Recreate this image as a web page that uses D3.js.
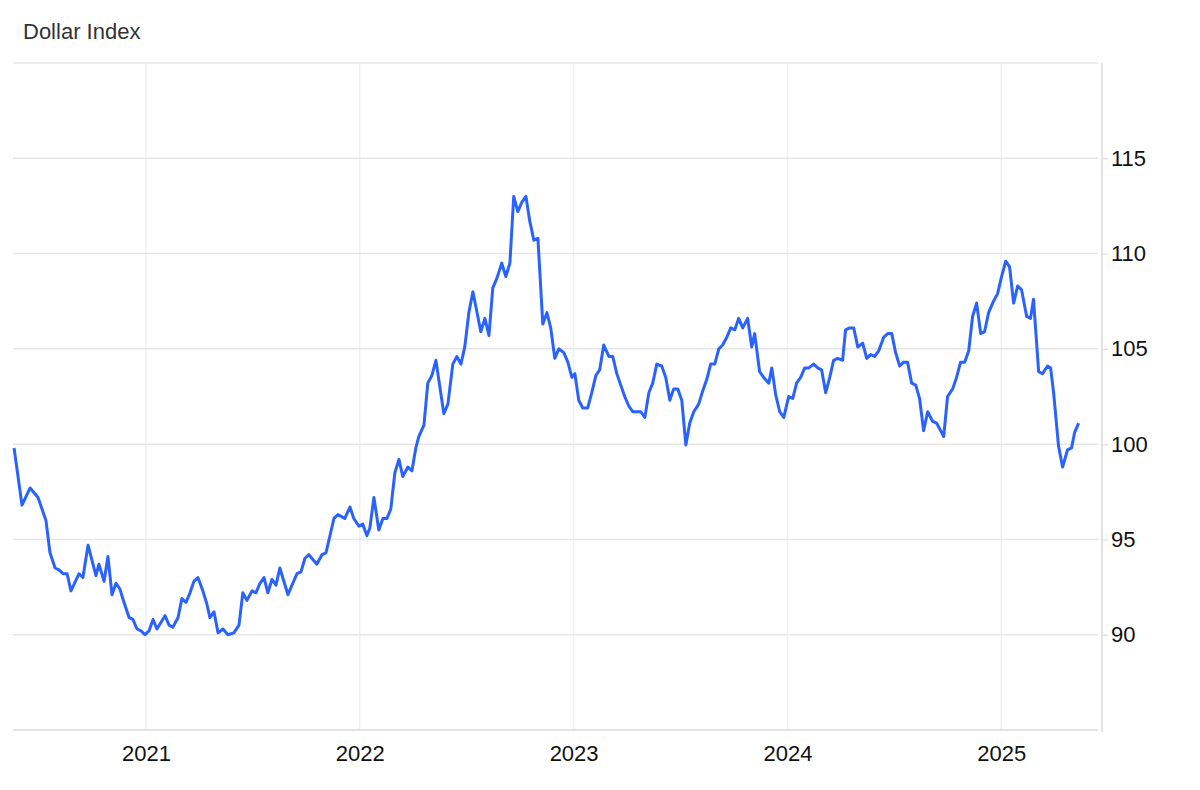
<!DOCTYPE html>
<html>
<head>
<meta charset="UTF-8">
<script src="https://cdn.jsdelivr.net/npm/d3@7"></script>
<style>
    body{margin:0;background:#fff;font-family:"Liberation Sans",Arial,sans-serif;}
    .grid line{stroke:#e6e6e6;stroke-width:1.5px;}
    .vgrid line{stroke:#edf0f4;stroke-width:1.5px;}
</style>
</head>
<body>
<script>
    // decimal-year dates and index values (approx weekly)
    var dates=[2020.383,2020.420,2020.458,2020.495,2020.532,2020.551,2020.575,2020.593,2020.612,2020.631,2020.649,2020.687,2020.705,2020.729,2020.766,2020.780,2020.804,2020.822,2020.841,2020.860,2020.878,2020.897,2020.921,2020.939,2020.958,2020.977,2020.995,2021.014,2021.033,2021.051,2021.089,2021.108,2021.126,2021.150,2021.168,2021.187,2021.206,2021.224,2021.243,2021.266,2021.285,2021.299,2021.318,2021.337,2021.360,2021.383,2021.411,2021.435,2021.453,2021.472,2021.496,2021.514,2021.533,2021.552,2021.570,2021.589,2021.608,2021.626,2021.664,2021.706,2021.725,2021.743,2021.762,2021.799,2021.823,2021.842,2021.879,2021.898,2021.930,2021.954,2021.972,2021.996,2022.014,2022.033,2022.047,2022.066,2022.089,2022.108,2022.127,2022.145,2022.164,2022.183,
        2022.201,2022.225,2022.244,2022.262,2022.276,2022.300,2022.318,2022.337,2022.356,2022.393,2022.412,2022.435,2022.454,2022.473,2022.491,2022.510,2022.529,2022.552,2022.566,2022.585,2022.604,2022.622,2022.641,2022.664,2022.683,2022.702,2022.720,2022.739,2022.758,2022.777,2022.795,2022.814,2022.833,2022.856,2022.875,2022.893,2022.912,2022.931,2022.954,2022.973,2022.992,2023.006,2023.024,2023.043,2023.066,2023.085,2023.104,2023.122,2023.141,2023.165,2023.183,2023.202,2023.239,2023.258,2023.277,2023.314,2023.333,2023.352,2023.370,2023.389,2023.412,2023.431,2023.450,2023.468,2023.487,2023.506,2023.525,2023.543,2023.562,2023.585,2023.604,2023.623,2023.641,2023.660,2023.679,
        2023.697,2023.716,2023.735,2023.754,2023.772,2023.791,2023.814,2023.833,2023.847,2023.870,2023.889,2023.913,2023.927,2023.945,2023.964,2023.983,2024.006,2024.025,2024.043,2024.062,2024.081,2024.100,2024.123,2024.142,2024.160,2024.179,2024.198,2024.216,2024.235,2024.258,2024.272,2024.291,2024.310,2024.329,2024.352,2024.371,2024.389,2024.408,2024.427,2024.450,2024.469,2024.488,2024.506,2024.525,2024.544,2024.562,2024.581,2024.600,2024.618,2024.637,2024.656,2024.679,2024.698,2024.717,2024.731,2024.749,2024.773,2024.791,2024.810,2024.829,2024.848,2024.866,2024.885,2024.904,2024.922,2024.941,2024.964,2024.983,2025.002,2025.021,2025.039,2025.058,2025.077,2025.095,2025.119,2025.137,2025.151,2025.175,2025.193,2025.217,2025.231,2025.245,2025.268,2025.287,2025.310,2025.329,2025.343,2025.362];
    var values=[99.8,96.8,97.7,97.2,96.0,94.3,93.5,93.4,93.2,93.2,92.3,93.2,93.0,94.7,93.1,93.7,92.8,94.1,92.1,92.7,92.4,91.7,90.9,90.8,90.3,90.2,90.0,90.2,90.8,90.3,91.0,90.5,90.4,90.9,91.9,91.7,92.2,92.8,93.0,92.3,91.6,90.9,91.2,90.1,90.3,90.0,90.1,90.5,92.2,91.8,92.3,92.2,92.7,93.0,92.2,92.9,92.6,93.5,92.1,93.2,93.3,94.0,94.2,93.7,94.2,94.3,96.1,96.3,96.1,96.7,96.1,95.7,95.8,95.2,95.6,97.2,95.5,96.1,96.1,96.6,98.5,99.2,
        98.3,98.8,98.6,99.8,100.4,101.0,103.2,103.6,104.4,101.6,102.1,104.2,104.6,104.2,105.1,106.9,108.0,106.7,105.9,106.6,105.7,108.2,108.7,109.5,108.8,109.5,113.0,112.2,112.7,113.0,111.7,110.7,110.8,106.3,106.9,106.1,104.5,105.0,104.8,104.3,103.5,103.7,102.3,101.9,101.9,102.7,103.6,103.9,105.2,104.6,104.6,103.7,102.5,102.0,101.7,101.7,101.4,102.7,103.2,104.2,104.1,103.5,102.3,102.9,102.9,102.3,99.95,101.1,101.7,102.1,102.8,103.4,104.2,104.2,105.0,
        105.2,105.6,106.1,106.0,106.6,106.1,106.6,105.1,105.8,103.8,103.5,103.2,104.0,102.6,101.7,101.4,102.5,102.4,103.2,103.5,104.0,104.0,104.2,104.0,103.9,102.7,103.5,104.4,104.5,104.4,106.0,106.1,106.1,105.1,105.3,104.5,104.7,104.6,104.9,105.6,105.8,105.8,104.8,104.1,104.3,104.3,103.2,103.1,102.4,100.7,101.7,101.2,101.1,100.7,100.4,102.5,102.9,103.5,104.3,104.3,104.9,106.7,107.4,105.8,105.9,106.9,107.5,107.9,108.8,109.6,109.3,107.4,108.3,108.1,106.7,106.6,107.6,103.8,103.7,104.1,104.0,102.7,99.9,98.8,99.7,99.8,100.6,101.1];
    var yTicks=[90,95,100,105,110,115];
    var xTicks=[2021,2022,2023,2024,2025];

    var W=1200,H=790;
    var mLeft=13,mRight=1100,mTop=63,mBottom=730;
    var svg=d3.select("body").append("svg").attr("width",W).attr("height",H);

    var x=d3.scaleLinear().domain([2020.378,2025.462]).range([mLeft,mRight]);
    var y=d3.scaleLinear().domain([85,120]).range([mBottom,mTop]);

    svg.append("text").attr("x",23).attr("y",39)
        .style("font-size","22px").style("fill","#333").text("Dollar Index");

    // vertical grid
    svg.append("g").attr("class","vgrid").selectAll("line").data(xTicks).enter().append("line")
        .attr("x1",function(d){return x(d);}).attr("x2",function(d){return x(d);})
        .attr("y1",mTop).attr("y2",mBottom);
    // horizontal grid (top edge + ticks)
    svg.append("g").attr("class","grid").selectAll("line").data([120].concat(yTicks)).enter().append("line")
        .attr("x1",mLeft).attr("x2",mRight-2)
        .attr("y1",function(d){return y(d);}).attr("y2",function(d){return y(d);});
    svg.append("line").attr("x1",mLeft).attr("x2",mRight-2).attr("y1",mBottom).attr("y2",mBottom)
        .style("stroke","#e3e3e3").style("stroke-width","2px");

    // right axis
    var yAxis=d3.axisRight(y).tickValues(yTicks).tickSize(6).tickPadding(3);
    var ga=svg.append("g").attr("transform","translate("+(mRight+2)+",0)").call(yAxis);
    ga.select(".domain").attr("d","M0,"+mTop+"V"+(mBottom+2)).style("stroke","#e3e3e3").style("stroke-width","2px");
    ga.selectAll(".tick line").style("stroke","#e3e3e3").style("stroke-width","1.5px");
    ga.selectAll("text").style("font-size","22px").style("fill","#111").style("font-family","Liberation Sans, Arial, sans-serif");

    // x labels
    var xAxis=d3.axisBottom(x).tickValues(xTicks).tickFormat(d3.format("d")).tickSize(0).tickPadding(15);
    var gx=svg.append("g").attr("transform","translate(0,"+mBottom+")").call(xAxis);
    gx.select(".domain").remove();
    gx.selectAll("text").style("font-size","22px").style("fill","#111").style("font-family","Liberation Sans, Arial, sans-serif");

    var line=d3.line().x(function(d){return x(d[0]);}).y(function(d){return y(d[1]);});
    svg.append("path").datum(d3.zip(dates,values)).attr("d",line)
        .style("fill","none").style("stroke","#2962ff").style("stroke-width","3px").style("stroke-linejoin","round");
</script>
</body>
</html>
